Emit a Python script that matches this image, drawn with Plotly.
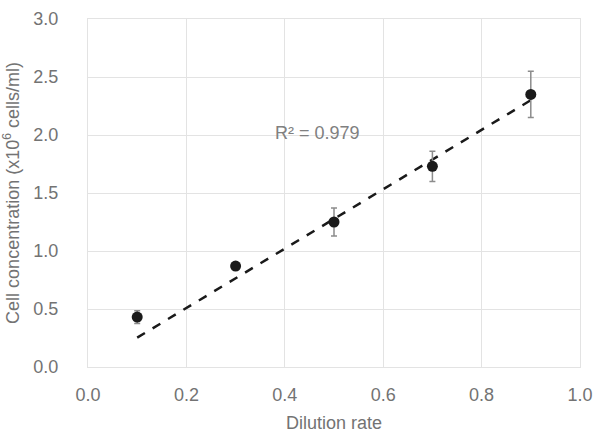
import plotly.graph_objects as go

dilution_rate = [0.1, 0.3, 0.5, 0.7, 0.9]
cell_conc = [0.43, 0.87, 1.25, 1.73, 2.35]
cell_err = [0.055, 0.03, 0.12, 0.13, 0.20]

trend_x = [0.1, 0.9]
trend_y = [0.253, 2.30]
r2_label = "R² = 0.979"

x_ticks = [0.0, 0.2, 0.4, 0.6, 0.8, 1.0]
y_ticks = [0.0, 0.5, 1.0, 1.5, 2.0, 2.5, 3.0]

text_color = "#737373"
grid_color = "#e3e3e3"
font_family = "Liberation Sans, Arial, sans-serif"

fig = go.Figure()
fig.add_trace(go.Scatter(
    x=trend_x, y=trend_y, mode="lines",
    line=dict(color="#1a1a1a", width=2.5, dash="dash"),
    hoverinfo="skip", showlegend=False))
fig.add_trace(go.Scatter(
    x=dilution_rate, y=cell_conc, mode="markers",
    marker=dict(color="#1a1a1a", size=11),
    error_y=dict(type="data", array=cell_err, visible=True,
                 color="#8c8c8c", thickness=1.5, width=3),
    showlegend=False))

fig.add_annotation(x=0.467, y=2.02, text=r2_label, showarrow=False,
                   font=dict(size=18, color="#808080", family=font_family))

fig.update_layout(
    width=593, height=434,
    margin=dict(l=88, r=13, t=19, b=67),
    paper_bgcolor="white", plot_bgcolor="white",
    font=dict(family=font_family, color=text_color, size=18),
    showlegend=False,
)
fig.update_xaxes(
    range=[0, 1], tickvals=x_ticks, ticktext=[f"{v:.1f}" for v in x_ticks],
    showgrid=True, gridcolor=grid_color, gridwidth=1,
    showline=True, linecolor=grid_color, linewidth=1, mirror=True,
    zeroline=False, ticks="", ticklabelstandoff=11,
    tickfont=dict(size=18, color=text_color), automargin=False,
    title=dict(text="Dilution rate", font=dict(size=18, color=text_color), standoff=12),
)
fig.update_yaxes(
    range=[0, 3], tickvals=y_ticks, ticktext=[f"{v:.1f}" for v in y_ticks],
    showgrid=True, gridcolor=grid_color, gridwidth=1,
    showline=True, linecolor=grid_color, linewidth=1, mirror=True,
    zeroline=False, ticks="", ticklabelstandoff=25,
    tickfont=dict(size=18, color=text_color), automargin=False,
    title=dict(text="Cell concentration (x10<sup><span style='font-size:12px'>6</span></sup> cells/ml)",
               font=dict(size=18, color=text_color), standoff=9),
)

fig.write_html("out.html", config={"displayModeBar": False},
               post_script="document.body.style.margin='0';")
